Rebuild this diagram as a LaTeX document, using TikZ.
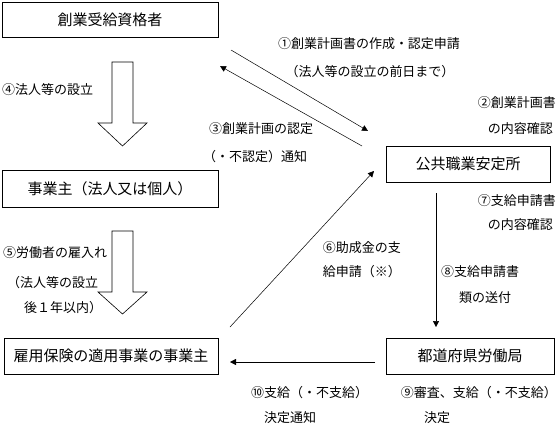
\documentclass[tikz,border=0pt]{standalone}
\usepackage{fontspec}
\usepackage{tikz}
\usetikzlibrary{arrows.meta,shapes}
\newfontfamily\jpfont{Noto Sans CJK JP}
\newcommand{\boxfont}{\jpfont\fontsize{15}{18}\selectfont}
\newcommand{\labfont}{\jpfont\fontsize{13}{15}\selectfont}
\newcommand{\thinw}{0.6pt}

\begin{document}
\begin{tikzpicture}[x=1pt,y=-1pt,
    kasten/.style={draw, line width=\thinw, inner sep=0pt, minimum height=36pt, font=\boxfont},
    lab/.style={inner sep=0pt, font=\labfont},
    flow/.style={line width=0.5pt, -{Triangle[width=6pt,length=6pt]}}]
    \useasboundingbox (0,0) rectangle (558,424);
    %\draw[help lines, step=10pt] (0,0) grid (558,424);
    % boxes
    \node[kasten, minimum width=216pt, minimum height=35pt] (jukyu) at (110,19.5) {創業受給資格者};
    \node[kasten, minimum width=216pt, minimum height=37pt] (jigyo) at (110,188.5) {事業主（法人又は個人）};
    \node[kasten, minimum width=214pt] (koyo) at (111,356) {雇用保険の適用事業の事業主};
    \node[kasten, minimum width=164pt] (antei) at (468,164) {公共職業安定所};
    \node[kasten, minimum width=168pt] (rodo) at (470,356) {都道府県労働局};
    % hollow arrows
    \foreach \t/\sb/\tip in {62/123/146, 231/292/314} {
        \draw[line width=\thinw] (112,\t) -- (133,\t) -- (133,\sb) -- (147,\sb)
            -- (122.5,\tip) -- (98,\sb) -- (112,\sb) -- cycle;
    }
    % free ends of the connectors
    \coordinate (a1) at (231,50);
    \coordinate (b1) at (368,131);
    \coordinate (a3) at (362,146);
    \coordinate (b3) at (220,66);
    \coordinate (a6) at (230,327);
    \coordinate (b6) at (374,171);
    \coordinate (a8) at (436,193);
    \coordinate (b8) at (436,327);
    \coordinate (a10) at (375,362);
    \coordinate (b10) at (230,362);
    \draw[flow] (a1) -- (b1);
    \draw[flow] (a3) -- (b3);
    \draw[flow] (a6) -- (b6);
    \draw[flow] (a8) -- (b8);
    \draw[flow] (a10) -- (b10);
    % labels
    \node[lab, anchor=west] (l4) at (2,90) {④法人等の設立};
    \node[lab, anchor=west] (l5a) at (3,253) {⑤労働者の雇入れ};
    \node[lab, anchor=west] (l5b) at (7,283) {（法人等の設立};
    \node[lab, anchor=west] (l5c) at (24,308) {後１年以内）};
    \node[lab] (l1a) at (369,44) {①創業計画書の作成・認定申請};
    \node[lab] (l1b) at (370,72) {（法人等の設立の前日まで）};
    \node[lab, anchor=east] (l2a) at (556,103) {②創業計画書};
    \node[lab, anchor=east] (l2b) at (553,129) {の内容確認};
    \node[lab, anchor=west] (l3a) at (209,129) {③創業計画の認定};
    \node[lab, anchor=west] (l3b) at (203,157) {（・不認定）通知};
    \node[lab, anchor=east] (l7a) at (556,201) {⑦支給申請書};
    \node[lab, anchor=east] (l7b) at (553,225) {の内容確認};
    \node[lab, anchor=east] (l6a) at (401,248) {⑥助成金の支};
    \node[lab, anchor=east] (l6b) at (401,272) {給申請（※）};
    \node[lab, anchor=west] (l8a) at (441,272) {⑧支給申請書};
    \node[lab, anchor=west] (l8b) at (459,298) {類の送付};
    \node[lab, anchor=west] (l10a) at (251,393) {⑩支給（・不支給）};
    \node[lab, anchor=west] (l10b) at (264,418) {決定通知};
    \node[lab, anchor=east] (l9a) at (557,393) {⑨審査、支給（・不支給）};
    \node[lab, anchor=west] (l9b) at (424,418) {決定};
\end{tikzpicture}
\end{document}
